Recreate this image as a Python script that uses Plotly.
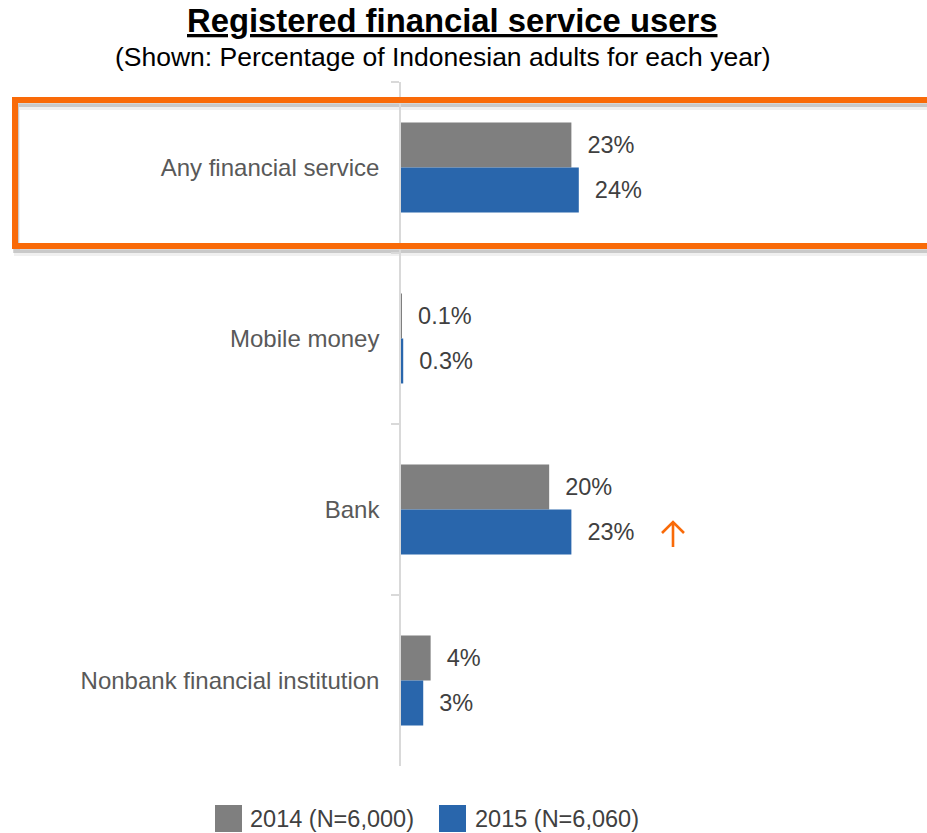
import plotly.graph_objects as go

# ---- data -------------------------------------------------------------
categories = ["Any financial service", "Mobile money", "Bank", "Nonbank financial institution"]
series_names = ["2014 (N=6,000)", "2015 (N=6,060)"]
values_2014 = [23, 0.1, 20, 4]
values_2015 = [24, 0.3, 23, 3]
label_2014 = ["23%", "0.1%", "20%", "4%"]
label_2015 = ["24%", "0.3%", "23%", "3%"]
colors = ["#7F7F7F", "#2966AC"]

title_text = "Registered financial service users"
subtitle_text = "(Shown: Percentage of Indonesian adults for each year)"

# ---- figure geometry --------------------------------------------------
W, H = 927, 833
PLOT_L, PLOT_R, PLOT_T, PLOT_B = 401, 927, 82, 766
FONT = "Arial, 'Liberation Sans', sans-serif"
PAD = "\u00a0\u00a0"  # keeps value labels a little off the bar end


def px(x):
    return (x - PLOT_L) / (PLOT_R - PLOT_L)


def py(y):
    return (PLOT_B - y) / (PLOT_B - PLOT_T)


fig = go.Figure()
for name, vals, labels, col in zip(series_names, [values_2014, values_2015],
                                   [label_2014, label_2015], colors):
    fig.add_trace(go.Bar(
        y=categories, x=vals, name=name, orientation="h",
        marker=dict(color=col, line=dict(width=0)),
        text=[PAD + t for t in labels], textposition="outside",
        constraintext="none", cliponaxis=False,
        textfont=dict(family=FONT, size=23.5, color="#404040"),
        showlegend=False,
    ))

shapes = []
# soft drop shadow under the highlight frame
for dy, dx, alpha in [(7, 2, 0.06), (4, 1, 0.16)]:
    shapes.append(dict(
        type="rect", xref="paper", yref="paper",
        x0=px(15 + dx), x1=px(940 + dx), y0=py(246 + dy), y1=py(100 + dy),
        line=dict(color=f"rgba(0,0,0,{alpha})", width=6), layer="below",
    ))
# orange highlight frame around the first row
shapes.append(dict(
    type="rect", xref="paper", yref="paper",
    x0=px(15), x1=px(940), y0=py(246), y1=py(100),
    line=dict(color="#F96A08", width=6),
))
# orange "increase" arrow beside the Bank value
shapes.append(dict(
    type="path", xref="paper", yref="paper",
    path=(f"M {px(673)},{py(547)} L {px(673)},{py(522)} "
          f"M {px(662)},{py(533)} L {px(673)},{py(522)} L {px(684)},{py(533)}"),
    line=dict(color="#F96A08", width=2.6),
))

annotations = [
    dict(text=f"<b><u>{title_text}</u></b>", xref="paper", yref="paper",
         x=px(452), y=py(21), xanchor="center", yanchor="middle", showarrow=False,
         font=dict(family=FONT, size=32.8, color="#000000")),
    dict(text=subtitle_text, xref="paper", yref="paper",
         x=px(443), y=py(57), xanchor="center", yanchor="middle", showarrow=False,
         font=dict(family=FONT, size=26.5, color="#000000")),
]

# legend drawn as swatches with labels
legend_items = [(215, 248), (439, 473)]
for (sx, tx), name, col in zip(legend_items, series_names, colors):
    shapes.append(dict(
        type="rect", xref="paper", yref="paper",
        x0=px(sx), x1=px(sx + 27), y0=py(832), y1=py(805),
        fillcolor=col, line=dict(width=0),
    ))
    annotations.append(dict(
        text=name, xref="paper", yref="paper", x=px(tx), y=py(819),
        xanchor="left", yanchor="middle", showarrow=False,
        font=dict(family=FONT, size=23.5, color="#404040"),
    ))

fig.update_layout(
    width=W, height=H,
    margin=dict(l=PLOT_L, r=W - PLOT_R, t=PLOT_T, b=H - PLOT_B, pad=0),
    paper_bgcolor="white", plot_bgcolor="white",
    barmode="group", bargap=0.474, bargroupgap=0,
    shapes=shapes, annotations=annotations,
    xaxis=dict(range=[0, 71], visible=False, fixedrange=True),
    yaxis=dict(
        autorange="reversed", showline=True, linecolor="#D9D9D9", linewidth=1.5,
        ticks="outside", tickson="boundaries", ticklen=8, tickcolor="#D9D9D9",
        tickwidth=1.5, showgrid=False, ticklabelstandoff=15,
        tickfont=dict(family=FONT, size=24, color="#595959"),
    ),
    font=dict(family=FONT),
)

fig.write_html("out.html")
